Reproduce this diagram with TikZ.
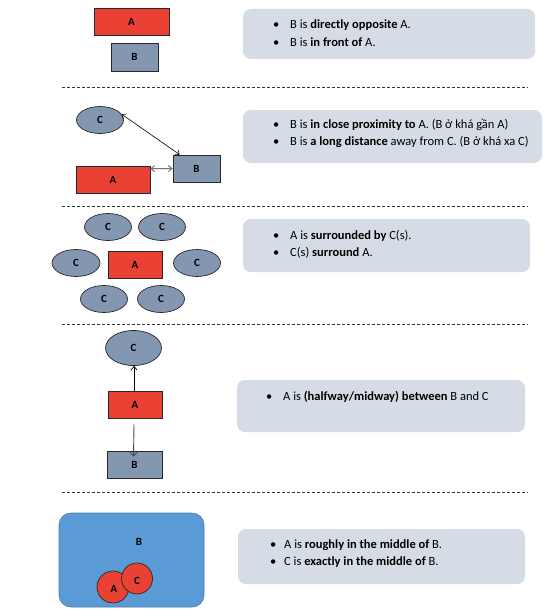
\documentclass[tikz,border=0pt]{standalone}
\usepackage{fontspec}
\setmainfont{Carlito}
\usetikzlibrary{arrows.meta,shapes.geometric}
\definecolor{redfill}{RGB}{233,66,53}
\definecolor{greyblue}{RGB}{132,151,176}
\definecolor{bigblue}{RGB}{91,155,213}
\definecolor{bigblueborder}{RGB}{70,120,170}
\definecolor{callout}{RGB}{214,220,229}
\definecolor{outline}{RGB}{40,40,40}
\tikzset{
  boxlabel/.style={font=\fontsize{11}{12}\selectfont\bfseries},
  redbox/.style={draw=outline, line width=0.7pt, fill=redfill, rectangle, inner sep=0pt, boxlabel},
  greybox/.style={draw=outline, line width=0.7pt, fill=greyblue, rectangle, inner sep=0pt, boxlabel},
  greyell/.style={draw=outline, line width=0.7pt, fill=greyblue, ellipse, inner sep=0pt, boxlabel},
  redcirc/.style={draw=outline, line width=0.7pt, fill=redfill, circle, inner sep=0pt, boxlabel},
  calloutbox/.style={fill=callout, rounded corners=8pt, draw=none},
  sepline/.style={dashed, dash pattern=on 3pt off 2pt, line width=0.8pt, draw=black!80},
  bulletline/.style={anchor=base west, inner sep=0pt, font=\fontsize{12.5}{14}\selectfont},
  blackarrow/.style={line width=0.6pt, draw=black, {Straight Barb[length=3.5pt,width=6pt]}-{Straight Barb[length=3.5pt,width=6pt]}},
  greyarrow/.style={line width=1pt, draw=black!55, {Straight Barb[length=3.5pt,width=6pt]}-{Straight Barb[length=3.5pt,width=6pt]}},
  uparrow/.style={line width=0.7pt, draw=black, -{Straight Barb[length=3.5pt,width=6pt]}},
  downarrow/.style={line width=0.9pt, draw=black!70, -{Straight Barb[length=4pt,width=7pt]}},
}
\newcommand{\bul}[1]{\makebox[17pt][l]{•}#1}
\newcommand{\bulb}[1]{\makebox[14pt][l]{•}#1}
\begin{document}
\begin{tikzpicture}[x=1pt,y=-1pt]
\useasboundingbox (0,0) rectangle (559,610);
\fill[white] (0,0) rectangle (559,610);

% separators
\coordinate (s1l) at (62,87);  \coordinate (s1r) at (528,87);
\coordinate (s2l) at (62,206); \coordinate (s2r) at (528,206);
\coordinate (s3l) at (62,324); \coordinate (s3r) at (528,324);
\coordinate (s4l) at (62,492); \coordinate (s4r) at (528,492);
\draw[sepline] (s1l) -- (s1r);
\draw[sepline] (s2l) -- (s2r);
\draw[sepline] (s3l) -- (s3r);
\draw[sepline] (s4l) -- (s4r);

% ---------- Section 1
\node[redbox, minimum width=75pt, minimum height=27pt] (a1) at (131.5,21.5) {A};
\node[greybox, minimum width=47pt, minimum height=28pt] (b1) at (134.5,57) {B};
\node[calloutbox, minimum width=292pt, minimum height=50pt] (c1) at (389,34) {};
\node[bulletline] (t11) at (273,29) {\bul{B is \textbf{directly opposite} A.}};
\node[bulletline] (t12) at (273,46.5) {\bul{B is \textbf{in front of} A.}};

% ---------- Section 2
\node[greyell, minimum width=47pt, minimum height=27pt] (c2) at (100,120) {C};
\node[greybox, minimum width=47pt, minimum height=27pt] (b2) at (196.5,168.5) {B};
\node[redbox, minimum width=74pt, minimum height=27pt] (a2) at (113,179.5) {A};
\draw[blackarrow] (c2.15) -- ([xshift=7pt]b2.north west);
\draw[greyarrow] ([yshift=-3pt]a2.north east) -- (b2.west);
\node[calloutbox, minimum width=299pt, minimum height=53pt] (c2box) at (392.5,136.5) {};
\node[bulletline] (t21) at (273,128.5) {\bul{B is \textbf{in close proximity to} A. (B ở khá gần A)}};
\node[bulletline] (t22) at (273,145.5) {\bul{B is \textbf{a long distance} away from C. (B ở khá xa C)}};

% ---------- Section 3
\node[greyell, minimum width=47pt, minimum height=27pt] (c31) at (108,227) {C};
\node[greyell, minimum width=47pt, minimum height=27pt] (c32) at (162,227) {C};
\node[greyell, minimum width=48pt, minimum height=27pt] (c33) at (76,263) {C};
\node[redbox, minimum width=54pt, minimum height=27pt] (a3) at (135,264.5) {A};
\node[greyell, minimum width=47pt, minimum height=27pt] (c34) at (197,263) {C};
\node[greyell, minimum width=47pt, minimum height=27pt] (c35) at (104,299) {C};
\node[greyell, minimum width=47pt, minimum height=27pt] (c36) at (161,299) {C};
\node[calloutbox, minimum width=287pt, minimum height=53pt] (c3box) at (386.5,245.5) {};
\node[bulletline] (t31) at (273,239.5) {\bul{A is \textbf{surrounded by} C(s).}};
\node[bulletline] (t32) at (273,256.5) {\bul{C(s) \textbf{surround} A.}};

% ---------- Section 4
\node[greyell, minimum width=56pt, minimum height=35pt] (c4) at (133.5,348) {C};
\node[redbox, minimum width=54pt, minimum height=27pt] (a4) at (135,404.5) {A};
\node[greybox, minimum width=55pt, minimum height=27pt] (b4) at (134.5,464.5) {B};
\draw[uparrow] ([xshift=-1pt]a4.north) -- ([xshift=-1pt]a4.north |- c4.south);
\draw[downarrow] ([xshift=-1pt,yshift=-6pt]a4.south) -- ([xshift=-1pt,yshift=-6pt]b4.north);
\node[calloutbox, minimum width=288pt, minimum height=52pt] (c4box) at (381,406) {};
\node[bulletline] (t41) at (266,400) {\bul{A is \textbf{(halfway/midway) between} B and C}};

% ---------- Section 5
\node[draw=bigblueborder, line width=0.6pt, fill=bigblue, rounded corners=12pt,
      minimum width=145pt, minimum height=94pt, inner sep=0pt] (b5) at (131.5,560) {};
\node[boxlabel, inner sep=0pt] (b5lab) at (139,542) {B};
\node[redcirc, minimum size=32pt] (a5) at (113,587) {};
\node[boxlabel, inner sep=0pt] (a5lab) at (114,589) {A};
\node[redcirc, minimum size=31pt] (c5) at (137,578.5) {};
\node[boxlabel, inner sep=0pt] (c5lab) at (137,581) {C};
\node[calloutbox, minimum width=287pt, minimum height=55pt] (c5box) at (381.5,556.5) {};
\node[bulletline] (t51) at (270,548) {\bulb{A is \textbf{roughly in the middle of} B.}};
\node[bulletline] (t52) at (270,565.5) {\bulb{C is \textbf{exactly in the middle of} B.}};
\end{tikzpicture}
\end{document}
